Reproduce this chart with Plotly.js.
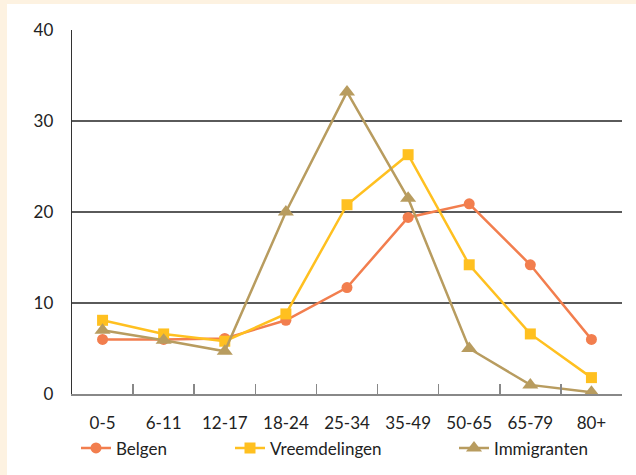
<!DOCTYPE html>
<html>
<head>
<meta charset="utf-8">
<script src="https://cdn.plot.ly/plotly-3.0.1.min.js"></script>
<style>
html,body{margin:0;padding:0;background:#FDF2E1;}
#chart{width:636px;height:475px;}
</style>
</head>
<body>
<div id="chart"></div>
<script>
const categories = ["0-5","6-11","12-17","18-24","25-34","35-49","50-65","65-79","80+"];
const belgen = [6.0, 6.0, 6.1, 8.1, 11.7, 19.4, 20.9, 14.2, 6.0];
const vreemdelingen = [8.1, 6.6, 5.8, 8.8, 20.8, 26.3, 14.2, 6.6, 1.8];
const immigranten = [7.0, 5.9, 4.7, 20.0, 33.2, 21.5, 5.0, 1.0, 0.2];
const seriesNames = ["Belgen","Vreemdelingen","Immigranten"];
const yTicks = [0,10,20,30,40];

const FONT = "Lato, 'Open Sans', sans-serif";
const FS = 17;
const colors = ["#F27E4E", "#FFC020", "#B89C5F"];

const traces = [
  {x: categories, y: belgen, name: seriesNames[0], type: "scatter", mode: "lines+markers",
   line: {color: colors[0], width: 2.5}, marker: {symbol: "circle", size: 11, color: colors[0]}, legend: "legend"},
  {x: categories, y: vreemdelingen, name: seriesNames[1], type: "scatter", mode: "lines+markers",
   line: {color: colors[1], width: 2.5}, marker: {symbol: "square", size: 11, color: colors[1]}, legend: "legend2"},
  {x: categories, y: immigranten, name: seriesNames[2], type: "scatter", mode: "lines+markers",
   line: {color: colors[2], width: 2.5}, marker: {symbol: "triangle-up", size: 14, color: colors[2]}, legend: "legend3"}
];

const W = 550, H = 363.7;
function px(x){ return (x - 72) / W; }
function py(y){ return (393.7 - y) / H; }

const legendBase = {orientation: "h", yanchor: "middle", xanchor: "left", bgcolor: "rgba(0,0,0,0)",
  font: {family: FONT, size: FS, color: "#222"}, y: py(448)};

const layout = {
  width: 636, height: 475,
  margin: {l: 72, r: 14, t: 30, b: 81.3, autoexpand: false},
  paper_bgcolor: "#FDF2E1",
  plot_bgcolor: "#FFFFFF",
  font: {family: FONT, size: FS, color: "#222"},
  showlegend: true,
  shapes: [
    {type: "rect", xref: "paper", yref: "paper", x0: px(7), x1: px(640), y0: py(4), y1: py(480),
     fillcolor: "#FFFFFF", line: {width: 0}, layer: "below"}
  ],
  xaxis: {
    type: "category", range: [-0.5, 8.5], showgrid: false, zeroline: false, automargin: false,
    showline: true, linecolor: "#888", linewidth: 2,
    ticks: "inside", tickson: "boundaries", ticklen: 10, tickcolor: "#888", tickwidth: 1.5,
    ticklabelstandoff: 13,
    tickfont: {family: FONT, size: FS, color: "#222"}
  },
  yaxis: {
    range: [0, 40], tickvals: yTicks, showgrid: true, gridcolor: "#5a5a5a", gridwidth: 1.3,
    zeroline: false, showline: true, linecolor: "#333", linewidth: 1.3, ticks: "", automargin: false,
    ticklabelstandoff: 14,
    tickfont: {family: FONT, size: FS, color: "#222"}
  },
  legend: Object.assign({}, legendBase, {x: px(76)}),
  legend2: Object.assign({}, legendBase, {x: px(230)}),
  legend3: Object.assign({}, legendBase, {x: px(454)})
};

Plotly.newPlot("chart", traces, layout, {displayModeBar: false, staticPlot: true});
</script>
</body>
</html>
